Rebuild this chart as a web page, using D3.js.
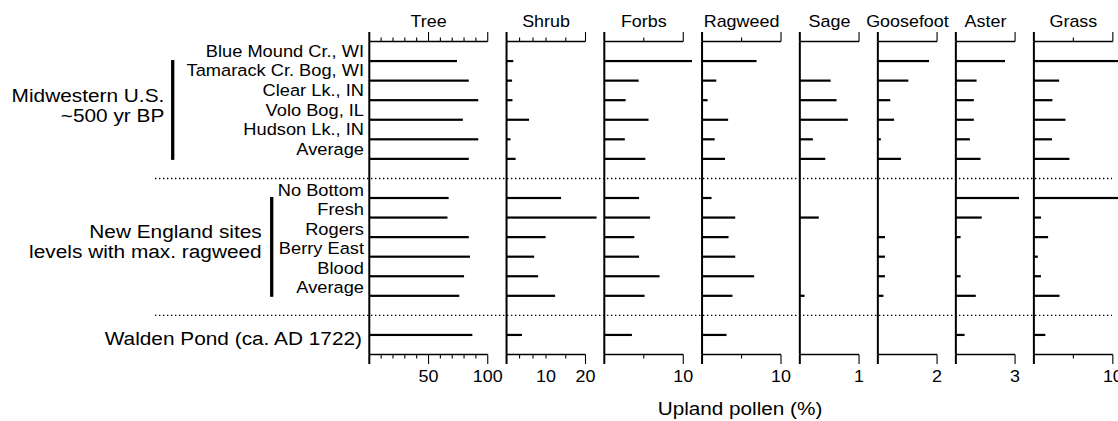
<!DOCTYPE html>
<html><head><meta charset="utf-8">
<script src="https://cdn.jsdelivr.net/npm/d3@7"></script>
<style>
html,body{margin:0;padding:0;background:#fff;}
svg{display:block;font-family:"Liberation Sans", Arial, Helvetica, sans-serif;}
</style>
</head><body>
<svg id="chart" width="1118" height="421"></svg>
<script>
// ---------------- data ----------------
const taxa = ["Tree","Shrub","Forbs","Ragweed","Sage","Goosefoot","Aster","Grass"];
const taxaMax = [100, 20, 10, 10, 1, 2, 3, 10];
const taxaTicks = [[0,10,20,30,40,50,60,70,80,90,100],[0,3.3,6.7,10,15,20],[0,5,10],[0,5,10],[0,1],[0,2],[0,3],[0,5,10]];
const majorTicks = [[0,50,100],[0,20],[0,10],[0,10],[0,1],[0,2],[0,3],[0,10]];
const tickLabels = [[50,100],[10,20],[10],[10],[1],[2],[3],[10]];

const midwestSites = ["Blue Mound Cr., WI","Tamarack Cr. Bog, WI","Clear Lk., IN","Volo Bog, IL","Hudson Lk., IN","Average"];
const newEnglandSites = ["No Bottom","Fresh","Rogers","Berry East","Blood","Average"];
const waldenSites = ["Walden Pond (ca. AD 1722)"];
const midwestGroup = ["Midwestern U.S.","~500 yr BP"];
const newEnglandGroup = ["New England sites","levels with max. ragweed"];
const axisTitle = "Upland pollen (%)";

// values: 6 Midwest rows, 6 New England rows, Walden
const tree      = [74, 84, 92, 79, 92, 84,   67, 66, 84, 85, 80, 76,   87];
const shrub     = [1.7, 1.4, 1.5, 5.7, 1.0, 2.3,   13.8, 22.8, 9.9, 7.0, 8.0, 12.3,   3.9];
const forbs     = [11.1, 4.35, 2.7, 5.6, 2.6, 5.2,   4.4, 5.8, 3.8, 4.4, 7.0, 5.1,   3.5];
const ragweed   = [6.9, 1.8, 0.7, 3.3, 1.6, 2.9,   1.2, 4.2, 3.35, 4.2, 6.6, 3.85,   3.1];
const sage      = [0, 0.52, 0.62, 0.81, 0.22, 0.43,   0, 0.32, 0, 0, 0, 0.08,   0];
const goosefoot = [1.73, 1.03, 0.42, 0.55, 0.1, 0.78,   0, 0, 0.24, 0.24, 0.24, 0.19,   0];
const aster     = [2.49, 1.05, 0.91, 0.91, 0.71, 1.25,   3.2, 1.31, 0.24, 0, 0.24, 1.01,   0.44];
const grass     = [11.5, 3.2, 2.35, 4.0, 2.3, 4.5,   11.5, 0.9, 1.8, 0.5, 0.9, 3.25,   1.45];
const series = [tree, shrub, forbs, ragweed, sage, goosefoot, aster, grass];

// ---------------- layout ----------------
const SX = 1.12;                       // horizontal stretch of the lettering
const panelUnits = [6,4,4,4,3,3,3,4];
const X0 = 369.3, UNIT = 19.74, GAP = 18.8;
const rowSlots = [0,1,2,3,4,5, 7,8,9,10,11,12, 14];
const Y = d3.scaleLinear().domain([-1, 15]).range([41.5, 354.5]);
const MAJ = 9.5, MIN = 4;

const svg = d3.select("#chart");
svg.append("rect").attr("width",1118).attr("height",421).attr("fill","#fff");

function label(g, x, y, s, size, anchor){
  return g.append("text")
    .attr("transform", `translate(${x},${y}) scale(${SX},1)`)
    .attr("text-anchor", anchor)
    .style("font-size", size + "px")
    .attr("fill", "#000")
    .text(s);
}

// dotted separators
[6, 13].forEach(s => {
  svg.append("line").attr("x1",155).attr("x2",1112).attr("y1",Y(s)).attr("y2",Y(s))
    .attr("stroke","#000").attr("stroke-width",1.4).attr("stroke-dasharray","1.4,2.6");
});

// panels
let cursor = X0;
taxa.forEach((name, p) => {
  const w = panelUnits[p] * UNIT;
  const x = d3.scaleLinear().domain([0, taxaMax[p]]).range([cursor, cursor + w]);
  cursor += w + GAP;
  const g = svg.append("g");

  // title
  label(g, (x.range()[0] + x.range()[1]) / 2, 26.7, name, 16, "middle");

  // axes lines
  g.append("line").attr("x1", x(0)).attr("x2", x(0)).attr("y1", Y(-1)).attr("y2", Y(15))
    .attr("stroke","#000").attr("stroke-width",2);
  [-1, 15].forEach(s => {
    g.append("line").attr("x1", x(0)).attr("x2", x(taxaMax[p])).attr("y1", Y(s)).attr("y2", Y(s))
      .attr("stroke","#000").attr("stroke-width",1.6);
  });
  // ticks
  taxaTicks[p].forEach(t => {
    const len = majorTicks[p].includes(t) ? MAJ : MIN;
    g.append("line").attr("x1", x(t)).attr("x2", x(t)).attr("y1", Y(-1) - len).attr("y2", Y(-1))
      .attr("stroke","#000").attr("stroke-width", t === 0 ? 2 : 1.1);
    g.append("line").attr("x1", x(t)).attr("x2", x(t)).attr("y1", Y(15)).attr("y2", Y(15) + len)
      .attr("stroke","#000").attr("stroke-width", t === 0 ? 2 : 1.1);
  });
  tickLabels[p].forEach(t => {
    label(g, x(t), 382, String(t), 16, "middle");
  });

  // bars
  g.selectAll("rect.bar").data(series[p]).join("rect").attr("class","bar")
    .attr("x", x(0))
    .attr("y", (d, i) => Y(rowSlots[i]) - 1.1)
    .attr("width", d => Math.max(0, x(d) - x(0)))
    .attr("height", 2.2)
    .attr("fill", "#000");
});

// site labels
const labG = svg.append("g");
midwestSites.forEach((s, i) => label(labG, 364, Y(rowSlots[i]) - 4.2, s, 16.3, "end"));
newEnglandSites.forEach((s, i) => label(labG, 364, Y(rowSlots[6 + i]) - 2.4, s, 16.3, "end"));
waldenSites.forEach((s, i) => label(labG, 362, Y(rowSlots[12 + i]) + 10.3, s, 18.6, "end"));

// group labels and bars
const mwTop = Y(rowSlots[0]), mwBot = Y(rowSlots[5]);
const neTop = Y(rowSlots[6]), neBot = Y(rowSlots[11]);
label(labG, 164.3, (mwTop + mwBot) / 2 - 7.5, midwestGroup[0], 18.6, "end");
label(labG, 164.3, (mwTop + mwBot) / 2 + 12.3, midwestGroup[1], 18.6, "end");
label(labG, 261.7, (neTop + neBot) / 2 - 9.2, newEnglandGroup[0], 18.6, "end");
label(labG, 261.7, (neTop + neBot) / 2 + 11.2, newEnglandGroup[1], 18.6, "end");
labG.append("line").attr("x1",172.7).attr("x2",172.7).attr("y1",mwTop - 1).attr("y2",mwBot + 1)
  .attr("stroke","#000").attr("stroke-width",3.3);
labG.append("line").attr("x1",271.7).attr("x2",271.7).attr("y1",neTop - 1).attr("y2",neBot + 1)
  .attr("stroke","#000").attr("stroke-width",3.3);

// axis title
label(svg, 740, 415, axisTitle, 18.5, "middle");
</script>
</body></html>
